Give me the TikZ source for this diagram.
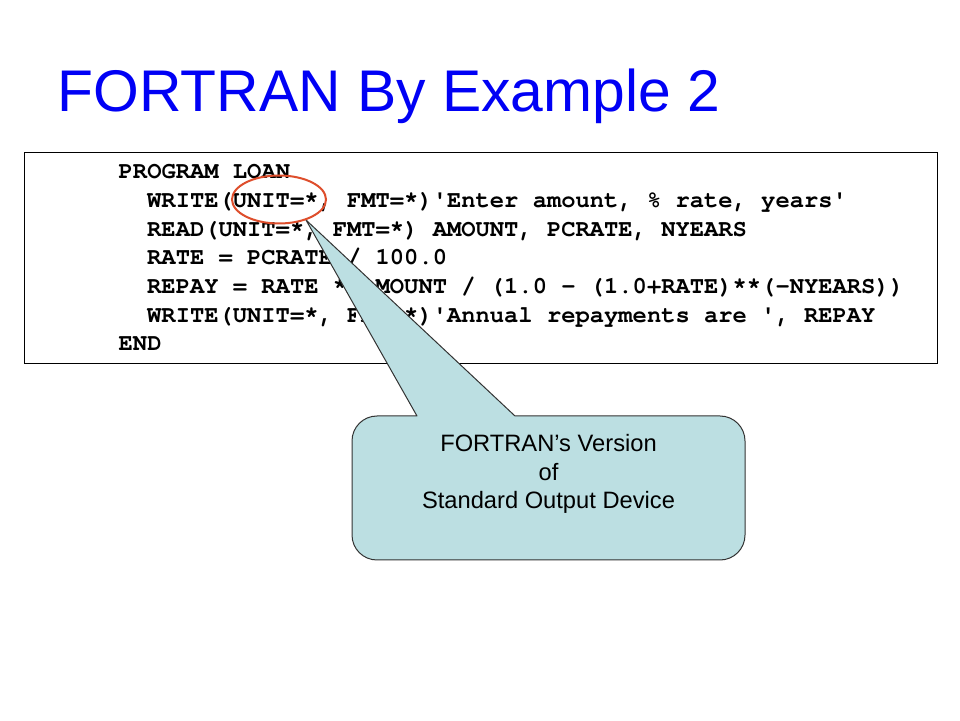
\documentclass[tikz,border=0pt]{standalone}
\usepackage{fontspec}
\setmainfont{Liberation Sans}
\setmonofont{TeX Gyre Cursor}
\definecolor{calloutfill}{RGB}{188,223,226}
\definecolor{ellred}{RGB}{222,78,44}
\definecolor{titleblue}{RGB}{0,0,245}
\begin{document}
\begin{tikzpicture}[x=1pt,y=1pt,
  codeline/.style={anchor=base west,inner sep=0pt,font=\fontsize{23.8}{28}\selectfont\ttfamily\bfseries},
  callouttext/.style={anchor=base,inner sep=0pt,font=\fontsize{23.7}{28}\selectfont}]
\useasboundingbox (0,0) rectangle (960,720);
\fill[white] (0,0) rectangle (960,720);
% title
\node[anchor=base west,inner sep=0pt,text=titleblue,font=\fontsize{58.8}{70}\selectfont] (title) at (57.5,608) {FORTRAN By Example 2};
% code box
\node[draw=black,line width=1pt,minimum width=913pt,minimum height=211pt,inner sep=0pt,anchor=north west] (codebox) at (24,568) {};
\node[codeline] (l1) at (118.5,541.3) {PROGRAM LOAN};
\node[codeline] (l2) at (147,512.6) {WRITE(UNIT=*, FMT=*)'Enter amount, \% rate, years'};
\node[codeline] (l3) at (147,483.9) {READ(UNIT=*, FMT=*) AMOUNT, PCRATE, NYEARS};
\node[codeline] (l4) at (147,455.2) {RATE = PCRATE / 100.0};
\node[codeline] (l5) at (147,426.5) {REPAY = RATE * AMOUNT / (1.0 - (1.0+RATE)**(-NYEARS))};
\node[codeline] (l6) at (147,397.8) {WRITE(UNIT=*, FMT=*)'Annual repayments are ', REPAY};
\node[codeline] (l7) at (118.5,369.1) {END};
% callout
\coordinate (tip) at (306,500);
\draw[fill=calloutfill,draw=black!80,line width=1pt,line join=round]
  (352,279) arc[start angle=180,end angle=90,radius=25]
  -- (417,304) -- (tip) -- (515,304)
  -- (720,304) arc[start angle=90,end angle=0,radius=25]
  -- (745,185) arc[start angle=0,end angle=-90,radius=25]
  -- (377,160) arc[start angle=-90,end angle=-180,radius=25]
  -- cycle;
\node[callouttext] (c1) at (548.5,268) {FORTRAN’s Version};
\node[callouttext] (c2) at (548.5,239.5) {of};
\node[callouttext] (c3) at (548.5,211) {Standard Output Device};
% red ellipse
\draw[ellred,line width=2pt] (279,520.5) ellipse[x radius=47,y radius=24];
\end{tikzpicture}
\end{document}
